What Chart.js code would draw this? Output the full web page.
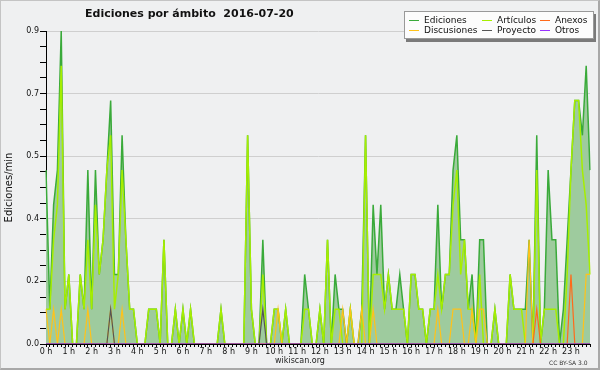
<!DOCTYPE html>
<html>
<head>
<meta charset="utf-8">
<script src="https://cdn.jsdelivr.net/npm/chart.js@4/dist/chart.umd.min.js"></script>
<style>
  html, body { margin: 0; padding: 0; background: #eff0f1; }
  #wrap { position: relative; width: 600px; height: 370px; font-family: "DejaVu Sans", sans-serif; }
  #frame { position: absolute; left: 0; top: 0; width: 600px; height: 370px; box-sizing: border-box;
           border: 1px solid #c4c4c4; border-right: 2px solid #a8a8a8; border-bottom: 2px solid #a8a8a8; pointer-events: none; }
  #title { position: absolute; left: 85px; top: 7px; font-weight: bold; font-size: 11px; white-space: pre; color: #111; }
  #legend { position: absolute; left: 404px; top: 11px; width: 188px; height: 26px; background: #fcfcfc;
            border: 1px solid #999; box-shadow: 2px 3px 0 #7a7a7a; }
  .lg { position: absolute; font-size: 9px; line-height: 10px; color: #111; white-space: nowrap; }
  .sw { position: absolute; width: 10px; height: 1px; }
  #site { position: absolute; left: 0; width: 600px; top: 356px; text-align: center; font-size: 8px; color: #222; }
  #lic { position: absolute; left: 549px; top: 359px; font-size: 6px; color: #333; }
</style>
</head>
<body>
<div id="wrap">
  <canvas id="chart" width="600" height="370"></canvas>
  <div id="title">Ediciones por ámbito  2016-07-20</div>
  <div id="legend"></div>
  <div id="site">wikiscan.org</div>
  <div id="lic">CC BY-SA 3.0</div>
  <div id="frame"></div>
</div>
<script>
// 10-minute slots, 6 per hour, 144 per day
const hourLabels = ['0 h','1 h','2 h','3 h','4 h','5 h','6 h','7 h','8 h','9 h','10 h','11 h',
                    '12 h','13 h','14 h','15 h','16 h','17 h','18 h','19 h','20 h','21 h','22 h','23 h'];
const slotsPerHour = 6;

const seriesNames = ['Ediciones','Artículos','Anexos','Discusiones','Proyecto','Otros'];
const seriesColors = ['#3aaa3a','#a6ee00','#ff6a1a','#ffc21a','#555555','#9933ff'];

const ediciones = [
  0.5,0.1,0.4,0.5,0.9,0.1,0.2,0,0,0.2,0.1,0.5,
  0.1,0.5,0.2,0.3,0.5,0.7,0.2,0.2,0.6,0.3,0.1,0.1,
  0,0,0,0.1,0.1,0.1,0,0.3,0,0,0.1,0,
  0.1,0,0.1,0,0,0,0,0,0,0,0.1,0,
  0,0,0,0,0,0.6,0.1,0,0,0.3,0,0,
  0.1,0.1,0,0.1,0,0,0,0,0.2,0.1,0,0,
  0.1,0,0.3,0,0.2,0.1,0.1,0,0.1,0,0,0.1,
  0.6,0,0.4,0.2,0.4,0.1,0.2,0.1,0.1,0.2,0.1,0,
  0.2,0.2,0.1,0.1,0,0.1,0.1,0.4,0.1,0.2,0.2,0.5,
  0.6,0.3,0.3,0.1,0.2,0,0.3,0.3,0,0,0.1,0,
  0,0,0.2,0.1,0.1,0.1,0.1,0.3,0,0.6,0,0.1,
  0.5,0.3,0.3,0,0.1,0.3,0.5,0.7,0.7,0.6,0.8,0.5
];
const articulos = [
  0.1,0.1,0.3,0.4,0.8,0.1,0.2,0,0,0.2,0.1,0.3,
  0.1,0.4,0.2,0.3,0.5,0.6,0.1,0.2,0.5,0.3,0.1,0.1,
  0,0,0,0.1,0.1,0.1,0,0.3,0,0,0.1,0,
  0.1,0,0.1,0,0,0,0,0,0,0,0.1,0,
  0,0,0,0,0,0.6,0.1,0,0,0.2,0,0,
  0.1,0.1,0,0.1,0,0,0,0,0.1,0.1,0,0,
  0.1,0,0.3,0,0.1,0.1,0,0,0.1,0,0,0,
  0.6,0,0.2,0.2,0.2,0.1,0.2,0.1,0.1,0.1,0.1,0,
  0.2,0.2,0.1,0.1,0,0.1,0.1,0.2,0.1,0.2,0.2,0.4,
  0.5,0.2,0.3,0.1,0.1,0,0.2,0,0,0,0.1,0,
  0,0,0.2,0.1,0.1,0.1,0,0,0,0.5,0,0.1,
  0.1,0.1,0.1,0,0,0.2,0.5,0.7,0.7,0.5,0.4,0.2
];
const anexos = [
  0,0,0,0,0,0,0,0,0,0,0,0,
  0,0,0,0,0,0,0,0,0,0,0,0,
  0,0,0,0,0,0,0,0,0,0,0,0,
  0,0,0,0,0,0,0,0,0,0,0,0,
  0,0,0,0,0,0,0,0,0,0,0,0,
  0,0,0,0,0,0,0,0,0,0,0,0,
  0,0,0,0,0,0,0,0,0,0,0,0,
  0,0,0,0,0,0,0,0,0,0,0,0,
  0,0,0,0,0,0,0,0,0,0,0,0,
  0,0,0,0,0,0,0,0,0,0,0,0,
  0,0,0,0,0,0,0,0,0,0.1,0,0,
  0,0,0,0,0,0,0.2,0,0,0,0,0
];
const discusiones = [
  0.1,0,0.1,0,0.1,0,0,0,0,0,0,0.1,
  0,0,0,0,0,0.1,0,0,0.1,0,0,0,
  0,0,0,0,0,0,0,0,0,0,0,0,
  0,0,0,0,0,0,0,0,0,0,0,0,
  0,0,0,0,0,0,0,0,0,0,0,0,
  0,0.1,0,0,0,0,0,0,0,0,0,0,
  0,0,0,0,0,0,0.1,0,0.1,0,0,0.1,
  0,0,0.1,0,0,0,0,0,0,0,0,0,
  0,0,0,0,0,0,0,0.1,0,0,0,0.1,
  0.1,0.1,0,0,0.1,0,0.1,0.1,0,0,0,0,
  0,0,0,0,0,0,0,0.3,0,0,0,0,
  0,0,0,0,0,0,0,0,0,0,0.2,0.2
];
const proyecto = [
  0,0,0,0,0,0,0,0,0,0,0,0,
  0,0,0,0,0,0.1,0,0,0,0,0,0,
  0,0,0,0,0,0,0,0,0,0,0,0,
  0,0,0,0,0,0,0,0,0,0,0,0,
  0,0,0,0,0,0,0,0,0,0.1,0,0,
  0,0,0,0,0,0,0,0,0,0,0,0,
  0,0,0,0,0,0,0,0,0,0,0,0,
  0,0,0,0,0,0,0,0,0,0,0,0,
  0,0,0,0,0,0,0,0,0,0,0,0,
  0,0,0,0,0,0,0,0,0,0,0,0,
  0,0,0,0,0,0,0,0,0,0,0,0,
  0,0,0,0,0,0,0,0,0,0,0,0
];
const otros = new Array(144).fill(0);

const yMax = 0.9, yMinorStep = 0.045, yMajorEvery = 4;

const labels = ediciones.map((_, i) => i % slotsPerHour === 0 ? hourLabels[i / slotsPerHour] : '');

Chart.defaults.font.family = '"DejaVu Sans", sans-serif';
Chart.defaults.color = '#111';

const line = (label, data, color, width, extra) => Object.assign({
  label, data, borderColor: color, borderWidth: width, pointRadius: 0, tension: 0, fill: false
}, extra || {});

// drawn last-to-first, so Ediciones (last) sits at the bottom with its fill
const datasets = [
  line(seriesNames[5], otros, seriesColors[5], 1.2),
  line(seriesNames[4], proyecto, seriesColors[4], 1.2),
  line(seriesNames[2], anexos, seriesColors[2], 1.2),
  line(seriesNames[3], discusiones, seriesColors[3], 1.2),
  line(seriesNames[1], articulos, seriesColors[1], 1.5),
  line(seriesNames[0], ediciones, seriesColors[0], 1.5, { fill: 'origin', backgroundColor: '#9ecb9e' })
];

new Chart(document.getElementById('chart'), {
  type: 'line',
  data: { labels, datasets },
  options: {
    responsive: false,
    animation: false,
    devicePixelRatio: 1,
    layout: { padding: { top: 31, right: 10, left: 0, bottom: 0 } },
    plugins: { legend: { display: false }, tooltip: { enabled: false } },
    scales: {
      x: {
        z: 1,
        offset: false,
        afterFit: s => { s.height = 26; },
        grid: { drawOnChartArea: false, tickLength: 3, tickColor: '#000' },
        border: { color: '#000', width: 1 },
        ticks: { autoSkip: false, maxRotation: 0, padding: 0, font: { size: 8 }, color: '#111' }
      },
      y: {
        min: 0, max: yMax,
        afterFit: s => { s.width = 46; },
        title: { display: true, text: 'Ediciones/min', font: { size: 10 }, color: '#111', padding: { top: 3, bottom: 0 } },
        grid: {
          tickLength: 6, tickColor: '#000',
          color: c => (c.index % yMajorEvery === 0 ? '#cfcfcf' : 'rgba(0,0,0,0)')
        },
        border: { color: '#000', width: 1 },
        ticks: {
          stepSize: yMinorStep, padding: 1, font: { size: 8 }, color: '#111',
          callback: (v, i) => (i % yMajorEvery === 0 ? v.toFixed(1) : '')
        }
      }
    }
  }
});

// legend box, 3 columns x 2 rows
const legendOrder = [0, 1, 2, 3, 4, 5];
const colX = [4, 77, 135];
const rowY = [3, 13];
const lg = document.getElementById('legend');
legendOrder.forEach((k, n) => {
  const c = n % 3, r = Math.floor(n / 3);
  const sw = document.createElement('div');
  sw.className = 'sw';
  sw.style.left = colX[c] + 'px';
  sw.style.top = (rowY[r] + 5) + 'px';
  sw.style.background = seriesColors[k];
  lg.appendChild(sw);
  const t = document.createElement('div');
  t.className = 'lg';
  t.style.left = (colX[c] + 15) + 'px';
  t.style.top = rowY[r] + 'px';
  t.textContent = seriesNames[k];
  lg.appendChild(t);
});
</script>
</body>
</html>
